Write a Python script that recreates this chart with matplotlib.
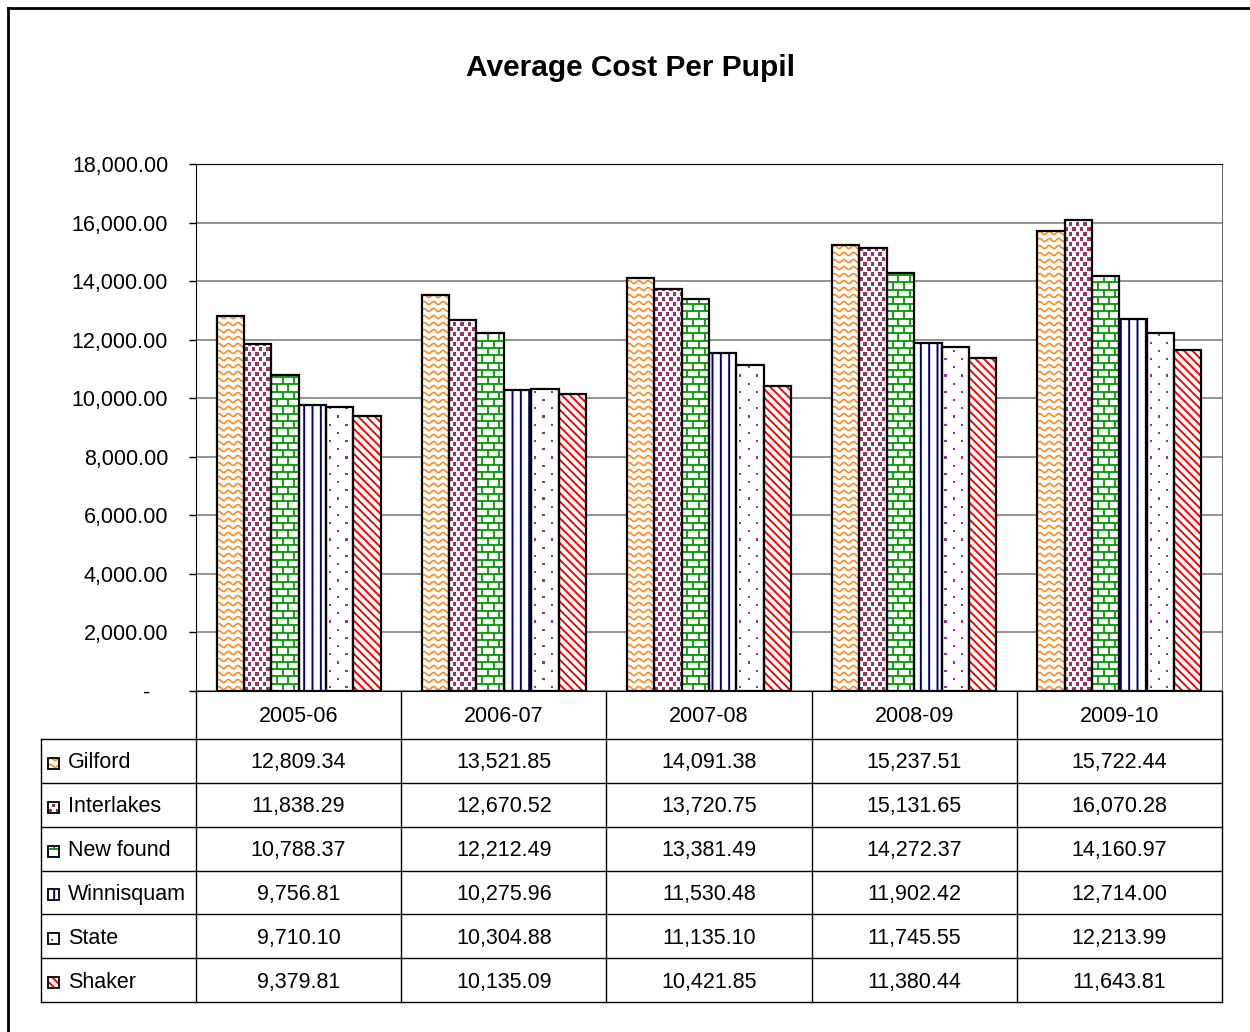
import numpy as np
import matplotlib.pyplot as plt
from matplotlib.patches import Rectangle
from matplotlib.lines import Line2D
from matplotlib.collections import LineCollection, PolyCollection
from matplotlib.ticker import FuncFormatter

plt.rcParams['font.family'] = ['Liberation Sans', 'DejaVu Sans']
plt.rcParams['hatch.linewidth'] = 1.4

# data
years = ['2005-06', '2006-07', '2007-08', '2008-09', '2009-10']
districts = ['Gilford', 'Interlakes', 'New found', 'Winnisquam', 'State', 'Shaker']
gilford = [12809.34, 13521.85, 14091.38, 15237.51, 15722.44]
interlakes = [11838.29, 12670.52, 13720.75, 15131.65, 16070.28]
newfound = [10788.37, 12212.49, 13381.49, 14272.37, 14160.97]
winnisquam = [9756.81, 10275.96, 11530.48, 11902.42, 12714.00]
state = [9710.10, 10304.88, 11135.10, 11745.55, 12213.99]
shaker = [9379.81, 10135.09, 10421.85, 11380.44, 11643.81]
series = [gilford, interlakes, newfound, winnisquam, state, shaker]

# fill style per district: (kind, colour)
STYLES = [
    ('wave', '#FF8A1F'),
    ('squares', '#993366'),
    ('brick', '#009A00'),
    ('||', '#000080'),
    ('dots', '#993399'),
    ('\\\\\\\\', '#FF0000'),
]
CUSTOM = ('wave', 'squares', 'brick', 'dots')

W_PX, H_PX = 1250, 1032
fig = plt.figure(figsize=(W_PX / 100, H_PX / 100), dpi=100)


def fx(px):
    return px / W_PX


def fy(px):
    return 1 - px / H_PX


def px_scale(ax):
    """data units per pixel for an axes"""
    bb = ax.get_position()
    x0, x1 = ax.get_xlim()
    y0, y1 = ax.get_ylim()
    return (x1 - x0) / (bb.width * W_PX), (y1 - y0) / (bb.height * H_PX)


def grid_points(wp, hp, dx, dy, start):
    pts = []
    for j, k in enumerate(np.arange(start, hp + dy, dy)):
        off = 0 if j % 2 == 0 else dx / 2
        for i in np.arange(off + start, wp + dx, dx):
            pts.append((i, k))
    return pts


def fill_pattern(ax, kind, color, x, y, w, h, clip):
    """custom fills that matplotlib hatches do not have"""
    sx, sy = px_scale(ax)
    wp, hp = w / sx, h / sy
    if kind == 'wave':
        t = np.linspace(0, wp, max(int(wp * 3), 12))
        segs = []
        for k in np.arange(3, hp + 6, 7.0):
            yy = k + 1.5 * np.sin(2 * np.pi * t / 9.5)
            segs.append(np.column_stack([x + t * sx, y + yy * sy]))
        art = LineCollection(segs, colors=color, linewidths=1.2)
    elif kind == 'brick':
        bh, bw = 7.3, 11.5
        segs = []
        for j, k in enumerate(np.arange(0, hp + bh, bh)):
            segs.append([(x, y + k * sy), (x + w, y + k * sy)])
            off = 0 if j % 2 == 0 else bw / 2
            for i in np.arange(off, wp + bw, bw):
                segs.append([(x + i * sx, y + k * sy), (x + i * sx, y + (k + bh) * sy)])
        art = LineCollection(segs, colors=color, linewidths=1.3)
    else:
        # small squares (Interlakes) or sparse dots (State)
        if kind == 'squares':
            pts, half = grid_points(wp, hp, 7.4, 5.0, 2), 1.7
        else:
            pts, half = grid_points(wp, hp, 16.5, 8.2, 4), 1.1
        polys = [[(x + (i - half) * sx, y + (k - half) * sy),
                  (x + (i + half) * sx, y + (k - half) * sy),
                  (x + (i + half) * sx, y + (k + half) * sy),
                  (x + (i - half) * sx, y + (k + half) * sy)] for i, k in pts]
        art = PolyCollection(polys, facecolors=color, edgecolors='none')
    ax.add_collection(art)
    art.set_zorder(3)
    art.set_clip_path(clip)


# ---- main chart ----
ax = fig.add_axes([fx(196), fy(691), fx(1222) - fx(196), fy(164) - fy(691)])
ax.set_xlim(-0.5, 4.5)
ax.set_ylim(0, 18000)
ax.set_axisbelow(True)

x = np.arange(len(years))
bw = 0.8 / len(series)
for j, (vals, (kind, col)) in enumerate(zip(series, STYLES)):
    xs = x + (j - 2.5) * bw
    if kind in CUSTOM:
        bars = ax.bar(xs, vals, bw, color='white', linewidth=0, zorder=2)
        for b in bars:
            fill_pattern(ax, kind, col, b.get_x(), 0, b.get_width(), b.get_height(), b)
    else:
        ax.bar(xs, vals, bw, color='white', edgecolor=col, hatch=kind, linewidth=0, zorder=2)
    ax.bar(xs, vals, bw, fill=False, edgecolor='black', linewidth=1.6, zorder=4)

ax.set_yticks(np.arange(0, 18001, 2000))
ax.yaxis.set_major_formatter(FuncFormatter(lambda v, p: '-   ' if v == 0 else f'{v:,.2f}'))
ax.tick_params(axis='y', direction='out', length=5, width=1, pad=15, labelsize=15.5)
ax.set_xticks([])
ax.grid(axis='y', color='#808080', linewidth=1.2)
for s in ['left', 'bottom', 'top']:
    ax.spines[s].set_color('black')
ax.spines['right'].set_color('#707070')

fig.text(fx(631), fy(68), 'Average Cost Per Pupil', ha='center', va='center',
         fontsize=21.5, fontweight='bold')

# ---- data table underneath ----
label_w = (196 - 41) / ((1222 - 196) / len(years))
tab = fig.add_axes([fx(41), fy(1002), fx(1222) - fx(41), fy(691) - fy(1002)])
tab.set_xlim(-0.5 - label_w, 4.5)
tab.set_ylim(0, 311)
tab.axis('off')

head_bot = 263
row_h = head_bot / len(districts)
lc = dict(color='black', linewidth=1, clip_on=False)
tab.plot([-0.5 - label_w, 4.5], [head_bot, head_bot], **lc)
for i in range(1, len(districts) + 1):
    yy = head_bot - i * row_h
    tab.plot([-0.5 - label_w, 4.5], [yy, yy], **lc)
for c in range(len(years) + 1):
    tab.plot([c - 0.5, c - 0.5], [0, 311], **lc)
tab.plot([-0.5 - label_w] * 2, [0, head_bot], **lc)

for c, yr in enumerate(years):
    tab.text(c, (311 + head_bot) / 2 - 1, yr, ha='center', va='center', fontsize=15.5)

sx_t, _ = px_scale(tab)
for i, (name, vals, (kind, col)) in enumerate(zip(districts, series, STYLES)):
    yc = head_bot - (i + 0.5) * row_h - 2
    for c, v in enumerate(vals):
        tab.text(c, yc, f'{v:,.2f}', ha='center', va='center', fontsize=15.5)
    tab.text(-0.5 - label_w + 27 * sx_t, yc, name, ha='left', va='center', fontsize=15.5)
    kx, ky, kw, kh = -0.5 - label_w + 7 * sx_t, yc - 6, 11 * sx_t, 11
    if kind in CUSTOM:
        key = Rectangle((kx, ky), kw, kh, facecolor='white', linewidth=0)
        tab.add_patch(key)
        fill_pattern(tab, kind, col, kx, ky, kw, kh, key)
    else:
        tab.add_patch(Rectangle((kx, ky), kw, kh, facecolor='white', edgecolor=col,
                                hatch=kind, linewidth=0))
    tab.add_patch(Rectangle((kx, ky), kw, kh, fill=False, edgecolor='black',
                            linewidth=1.3, zorder=5))

# outer frame (runs off the right and bottom of the image)
fig.add_artist(Line2D([fx(8), fx(8)], [fy(8), 0], color='black', linewidth=2))
fig.add_artist(Line2D([fx(8), 1], [fy(8), fy(8)], color='black', linewidth=2))

fig.savefig('out.png', dpi=100)
